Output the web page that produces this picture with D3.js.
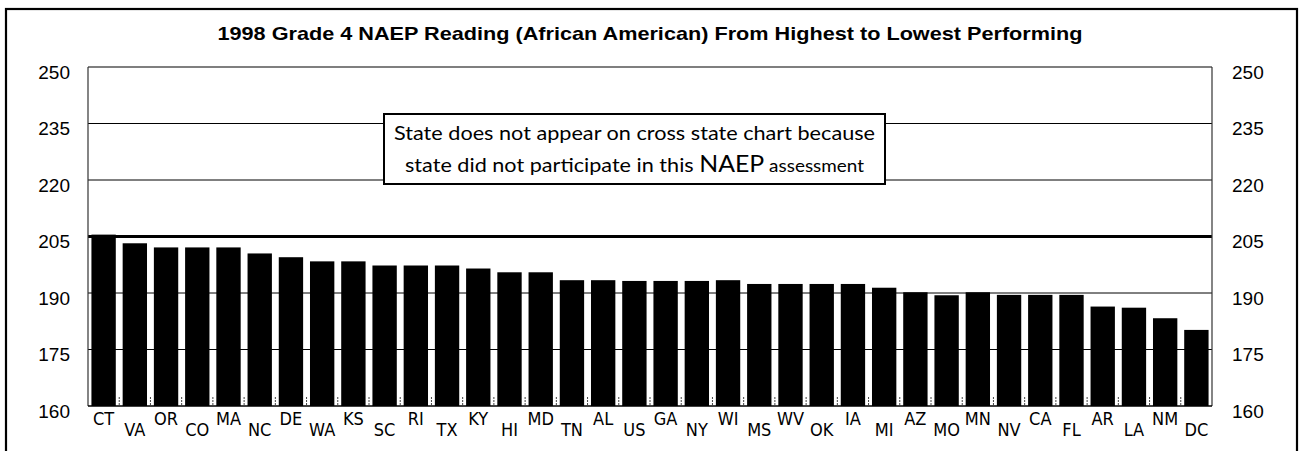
<!DOCTYPE html>
<html lang="en">
<head>
<meta charset="utf-8">
<title>1998 Grade 4 NAEP Reading (African American)</title>
<script src="https://d3js.org/d3.v7.min.js"></script>
<style type="text/css">
body { margin: 0; background: #fff; }
</style>
</head>
<body>
<div id="chart"></div>
<script>
// chart data
var states = ["CT","VA","OR","CO","MA","NC","DE","WA","KS","SC","RI","TX",
              "KY","HI","MD","TN","AL","US","GA","NY","WI","MS","WV","OK",
              "IA","MI","AZ","MO","MN","NV","CA","FL","AR","LA","NM","DC"];
var scores = [205.5,203.2,202.1,202.1,202.1,200.5,199.5,198.4,198.4,197.3,197.3,197.3,
              196.5,195.5,195.5,193.4,193.4,193.2,193.2,193.2,193.4,192.4,192.4,192.4,
              192.4,191.4,190.2,189.4,190.2,189.5,189.5,189.5,186.4,186.1,183.3,180.2];
var yTicks = [160, 175, 190, 205, 220, 235, 250];
var titleText = "1998 Grade 4 NAEP Reading (African American) From Highest to Lowest Performing";
var noteLine1 = "State does not appear on cross state chart because";

// dimensions
var W = 1300, H = 451;
var margin = {top: 67, right: 88, bottom: 45, left: 88},
    width = W - margin.left - margin.right,
    height = H - margin.top - margin.bottom;

var svg = d3.select("#chart")
  .append("svg")
    .attr("width", W)
    .attr("height", H);

// outer frame
svg.append("rect")
  .attr("x", 6).attr("y", 9)
  .attr("width", 1291).attr("height", 460)
  .attr("fill", "none")
  .attr("stroke", "#000")
  .attr("stroke-width", 2.2);

// title
svg.append("text")
  .attr("x", 650).attr("y", 40)
  .attr("text-anchor", "middle")
  .attr("font-family", "Liberation Sans, Arial, sans-serif")
  .attr("font-weight", "bold")
  .attr("font-size", 18.5)
  .attr("textLength", 865)
  .attr("lengthAdjust", "spacingAndGlyphs")
  .text(titleText);

var g = svg.append("g")
  .attr("transform", "translate(" + margin.left + "," + margin.top + ")");

var x = d3.scaleBand()
  .domain(states)
  .range([0, width])
  .paddingInner(0.22)
  .paddingOuter(0.11);

var y = d3.scaleLinear()
  .domain([160, 250])
  .range([height, 0]);

// gridlines
g.selectAll(".grid")
  .data(yTicks.filter(function(d) { return d > 160; }))
  .enter()
  .append("line")
    .attr("class", "grid")
    .attr("x1", 0).attr("x2", width)
    .attr("y1", function(d) { return y(d); })
    .attr("y2", function(d) { return y(d); })
    .attr("stroke", "#000")
    .attr("stroke-width", function(d) { return d == 205 ? 3 : (d == 250 ? 1.2 : 1); });

// axis labels, left and right
var fontAxis = "Liberation Sans, Arial, sans-serif";
g.selectAll(".ylabL")
  .data(yTicks)
  .enter()
  .append("text")
    .attr("x", -18)
    .attr("y", function(d) { return y(d) + 11.5; })
    .attr("text-anchor", "end")
    .attr("font-family", fontAxis)
    .attr("font-size", 19)
    .text(function(d) { return d; });
g.selectAll(".ylabR")
  .data(yTicks)
  .enter()
  .append("text")
    .attr("x", width + 20)
    .attr("y", function(d) { return y(d) + 11.5; })
    .attr("text-anchor", "start")
    .attr("font-family", fontAxis)
    .attr("font-size", 19)
    .text(function(d) { return d; });

// bars
g.selectAll("rect.bar")
  .data(states)
  .enter()
  .append("rect")
    .attr("class", "bar")
    .attr("x", function(d) { return x(d); })
    .attr("y", function(d, i) { return y(scores[i]); })
    .attr("width", x.bandwidth())
    .attr("height", function(d, i) { return height - y(scores[i]); })
    .attr("fill", "#000");

// small tick marks between bars
g.selectAll(".tick")
  .data(states.slice(1))
  .enter()
  .append("line")
    .attr("x1", function(d) { return x(d) - x.step() * x.paddingInner() / 2; })
    .attr("x2", function(d) { return x(d) - x.step() * x.paddingInner() / 2; })
    .attr("y1", height - 9).attr("y2", height)
    .attr("stroke", "#444")
    .attr("stroke-width", 1)
    .attr("stroke-dasharray", "2,1");

// plot frame (left, right, bottom)
g.append("line").attr("x1", 0).attr("x2", 0).attr("y1", 0).attr("y2", height)
  .attr("stroke", "#333").attr("stroke-width", 1.2);
g.append("line").attr("x1", width).attr("x2", width).attr("y1", 0).attr("y2", height)
  .attr("stroke", "#333").attr("stroke-width", 1.2);
g.append("line").attr("x1", 0).attr("x2", width).attr("y1", height).attr("y2", height)
  .attr("stroke", "#000").attr("stroke-width", 1.5);

// category labels, staggered
g.selectAll(".xlab")
  .data(states)
  .enter()
  .append("text")
    .attr("x", function(d) { return x(d) + x.bandwidth() / 2; })
    .attr("y", function(d, i) { return height + (i % 2 == 0 ? 19 : 30); })
    .attr("text-anchor", "middle")
    .attr("font-family", "Liberation Sans Narrow, DejaVu Sans Condensed, Arial Narrow, sans-serif")
    .attr("font-size", 18)
    .text(function(d) { return d; });

// note box
svg.append("rect")
  .attr("x", 384).attr("y", 114)
  .attr("width", 501).attr("height", 70)
  .attr("fill", "#fff")
  .attr("stroke", "#000")
  .attr("stroke-width", 2);

var noteFont = "Lato, Open Sans, sans-serif";
svg.append("text")
  .attr("x", 634.5).attr("y", 140)
  .attr("text-anchor", "middle")
  .attr("font-family", noteFont)
  .attr("font-size", 20)
  .attr("textLength", 481)
  .attr("lengthAdjust", "spacingAndGlyphs")
  .text(noteLine1);

var t2 = svg.append("text")
  .attr("x", 634.5).attr("y", 172)
  .attr("text-anchor", "middle")
  .attr("font-family", noteFont)
  .attr("font-size", 20)
  .attr("textLength", 459)
  .attr("lengthAdjust", "spacingAndGlyphs");
t2.append("tspan").text("state did not participate in this ");
t2.append("tspan").attr("font-size", 23).text("NAEP");
t2.append("tspan").attr("font-size", 17.5).text(" assessment");
</script>
</body>
</html>
